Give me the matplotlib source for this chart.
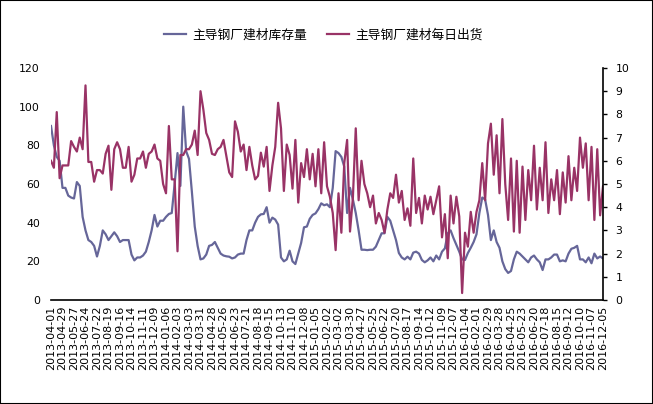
import matplotlib
matplotlib.use("Agg")
import matplotlib.pyplot as plt
import pandas as pd
from matplotlib.patches import Rectangle

# weekly data, Mondays from 2013-04-01 to 2016-12-05
start_date = "2013-04-01"

# 主导钢厂建材库存量 (left axis)
inventory = [
    90, 80, 74, 72, 58, 58, 54, 53, 52.5, 61,
    59, 43, 36, 31, 30, 28, 22.5, 28, 36, 34,
    31, 33, 35, 33, 30, 31, 31, 31, 23.5, 20.5,
    22, 22, 23, 25, 30, 36, 44, 38, 41, 41,
    43, 44.5, 45, 60, 76, 59, 100, 77, 73, 56,
    38, 28, 21, 21.5, 23.5, 28, 28.5, 30, 27, 24,
    23, 22.6, 22.4, 21.5, 22, 23.5, 24, 24, 31, 36,
    36, 40, 43, 44.3, 44.5, 48, 40, 42.6, 41.6, 39,
    22, 20, 21, 25.5, 20, 18.6, 24, 29.5, 37.6, 38,
    42, 44, 44.8, 47, 50, 49, 49.5, 48, 58, 77,
    76, 74, 69, 45, 58, 52, 45, 36, 26, 26,
    25.8, 26, 26, 27.6, 31, 34.5, 34.5, 43, 41, 36,
    31, 24.3, 22, 21, 22.4, 21, 24.5, 25, 24, 20.7,
    19.5, 20.5, 22, 20, 23, 21, 25, 26.7, 34.5, 36,
    32, 28.5, 25, 21, 20.7, 24.3, 27, 30, 34, 45,
    53, 52, 44, 31, 36, 30, 27, 20, 16, 14,
    15, 21, 25, 24, 22.5, 21, 19.5, 22, 23, 21,
    19.5, 15.5, 21, 21, 22, 23.5, 23.5, 20, 20.5, 20,
    24, 26.5, 27, 28, 21, 21, 19.5, 22, 19, 24,
    21.5, 22.5, 21.5,
]

# 主导钢厂建材每日出货 (right axis)
shipments = [
    6.0, 5.7, 8.1, 5.25, 5.8, 5.8, 5.8, 6.85, 6.6, 6.4,
    7.0, 6.5, 9.25, 5.95, 5.95, 5.1, 5.6, 5.6, 5.45, 6.3,
    6.65, 4.75, 6.5, 6.8, 6.5, 5.7, 5.7, 6.6, 5.1, 5.4,
    6.1, 6.1, 6.4, 5.7, 6.3, 6.4, 6.7, 6.1, 6.0, 5.0,
    4.6, 7.5, 5.2, 5.2, 2.1, 6.25, 6.25, 6.5, 6.5, 6.7,
    7.3, 6.25, 9.0, 8.2, 7.2, 6.9, 6.3, 6.25, 6.5, 6.6,
    6.9, 6.2, 5.5, 5.3, 7.7, 7.25, 6.4, 6.7, 5.6, 6.6,
    5.8, 5.2, 5.35, 6.35, 5.75, 6.6, 4.7, 5.8, 6.6, 8.5,
    7.4, 4.7, 6.7, 6.25, 4.8, 6.9, 4.2, 5.9, 5.3, 6.5,
    5.2, 6.3, 4.9, 6.5, 4.6, 6.8, 4.9, 4.45, 3.75, 2.15,
    4.6, 2.9, 5.9, 6.9, 2.95, 4.4, 7.4, 4.3, 6.0, 5.0,
    4.6, 4.0, 4.5, 3.3, 3.75, 3.45, 2.9, 3.9, 4.6, 4.4,
    5.4, 4.2, 4.7, 3.45, 3.95, 3.2, 6.1, 3.75, 4.4, 3.3,
    4.5, 3.9, 4.45, 3.7, 4.3, 4.9, 2.7, 3.7, 1.8, 4.5,
    3.3, 4.45, 3.6, 0.3, 2.9, 2.3, 3.8, 2.9, 3.8, 4.3,
    5.9, 4.3, 6.75, 7.6, 5.4, 7.1, 4.6, 7.8, 5.0, 3.45,
    6.1, 2.95, 6.0, 2.9, 5.75, 3.45, 5.6, 4.3, 6.65, 3.9,
    5.7, 4.3, 6.8, 3.75, 5.2, 4.3, 5.6, 3.7, 5.5, 4.2,
    6.2, 4.3, 5.7, 4.7, 7.0, 5.7, 6.75, 4.3, 6.6, 3.45,
    6.5, 3.65, 4.9,
]

label_inventory = "主导钢厂建材库存量"
label_shipments = "主导钢厂建材每日出货"
left_ticks = list(range(0, 121, 20))
right_ticks = list(range(0, 11))

dates = pd.date_range(start_date, periods=len(inventory), freq="7D")
x = list(range(len(inventory)))
tick_pos = x[::4]
tick_labels = [dates[i].strftime("%Y-%m-%d") for i in tick_pos]

W, H = 653, 404
fig = plt.figure(figsize=(W / 100, H / 100), dpi=100)
fig.patches.append(Rectangle((0, 0), 1, 1, transform=fig.transFigure,
                             fill=False, edgecolor="black", linewidth=1.5))

ax = fig.add_axes([51 / W, 1 - 300 / H, 552 / W, 232 / H])
l1, = ax.plot(x, inventory, color="#666699", linewidth=1.6)
ax.set_xlim(0, len(x) - 1)
ax.set_ylim(0, 120)
ax.set_yticks(left_ticks)
ax.set_xticks(tick_pos)
ax.set_xticklabels(tick_labels, rotation=90, fontsize=8)
ax.tick_params(axis="x", length=0, pad=4)
ax.tick_params(axis="y", length=0, pad=8, labelsize=7.8)
for s in ["top", "left", "right"]:
    ax.spines[s].set_visible(False)
ax.spines["bottom"].set_linewidth(1.2)

ax2 = ax.twinx()
l2, = ax2.plot(x, shipments, color="#993366", linewidth=1.6)
ax2.set_ylim(0, 10)
ax2.set_yticks(right_ticks)
ax2.tick_params(axis="y", direction="out", length=3, width=1, pad=6, labelsize=7.8)
for s in ["top", "left", "bottom"]:
    ax2.spines[s].set_visible(False)
ax2.spines["right"].set_linewidth(1.2)

fig.legend([l1, l2], [label_inventory, label_shipments], loc="center",
           bbox_to_anchor=(0.495, 1 - 35 / H), ncol=2, frameon=False,
           prop={"family": ["Noto Sans CJK SC", "DejaVu Sans"], "size": 9.2},
           handlelength=1.75, handletextpad=0.45, columnspacing=1.6)

fig.savefig("out.png", dpi=100)
